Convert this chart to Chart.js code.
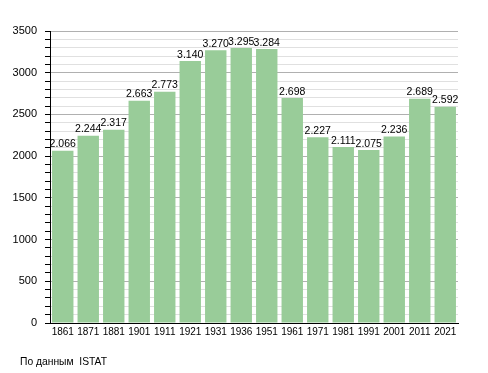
<!DOCTYPE html>
<html><head><meta charset="utf-8">
<script src="https://cdn.jsdelivr.net/npm/chart.js@4/dist/chart.umd.min.js"></script>
<style>html,body{margin:0;padding:0;background:#fff}#w{width:488px;height:373px;position:relative}</style>
</head><body><div id="w"><canvas id="c"></canvas></div>
<script>
const years = ['1861','1871','1881','1901','1911','1921','1931','1936','1951','1961','1971','1981','1991','2001','2011','2021'];
const population = [2066,2244,2317,2663,2773,3140,3270,3295,3284,2698,2227,2111,2075,2236,2689,2592];
const yTicks = [0,500,1000,1500,2000,2500,3000,3500];
const sourceNote = 'По данным  ISTAT';

const FONT = 'Liberation Sans, Arial, sans-serif';
function fmt(v){return String(v).replace(/\B(?=(\d{3})+(?!\d))/g,'.');}

const labelsPlugin = {
  id:'labels',
  afterDatasetsDraw(chart){
    const ctx = chart.ctx;
    const meta = chart.getDatasetMeta(0);
    ctx.save();
    ctx.font = '10.5px ' + FONT;
    ctx.fillStyle = '#000';
    ctx.textAlign = 'center';
    ctx.textBaseline = 'bottom';
    meta.data.forEach((bar,i)=>{
      ctx.fillText(fmt(population[i]), bar.x, bar.y - 1);
    });
    ctx.font = '10.3px ' + FONT;
    ctx.textAlign = 'left';
    ctx.textBaseline = 'middle';
    ctx.fillText(sourceNote, 20, 362);
    ctx.restore();
  }
};

new Chart(document.getElementById('c'), {
  type:'bar',
  data:{labels:years, datasets:[{data:population, backgroundColor:'#99cc99', borderWidth:0, barPercentage:0.84, categoryPercentage:1}]},
  options:{
    responsive:true, maintainAspectRatio:false, animation:false,
    layout:{padding:{top:31,right:30,left:13,bottom:0}},
    plugins:{legend:{display:false}, tooltip:{enabled:false}},
    scales:{
      x:{
        grid:{display:false},
        border:{color:'#000', width:1},
        ticks:{color:'#000', font:{family:FONT,size:10}, padding:-5, maxRotation:0, autoSkip:false},
        afterFit(s){s.height=50;}
      },
      y:{
        min:0, max:3500,
        afterBuildTicks(s){const t=[];for(let v=0;v<=3500;v+=100)t.push({value:v});s.ticks=t;},
        grid:{
          color:(c)=> (c.tick && c.tick.value%500===0) ? '#b0b0b0' : '#e0e0e0',
          tickColor:'#000', tickLength:5, drawTicks:true
        },
        border:{color:'#000', width:1},
        ticks:{color:'#000', font:{family:FONT,size:11}, padding:8, autoSkip:false,
          callback:(v)=> yTicks.includes(v) ? String(v) : ''},
        afterFit(s){s.width=37;}
      }
    }
  },
  plugins:[labelsPlugin]
});
</script></body></html>
